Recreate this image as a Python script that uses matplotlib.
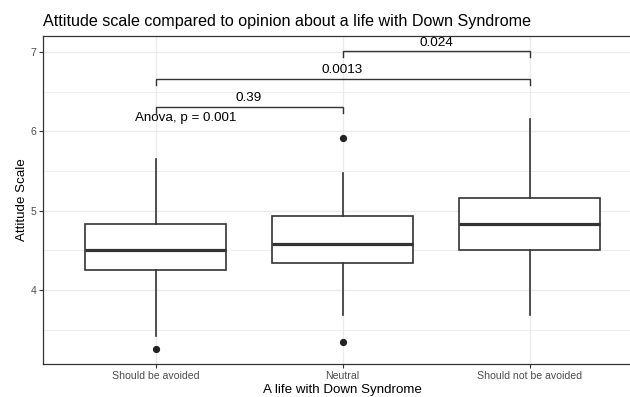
import matplotlib
matplotlib.use("Agg")
import matplotlib.pyplot as plt

plt.rcParams['font.family'] = ['Liberation Sans', 'DejaVu Sans']

# ---- data ----
categories = ["Should be avoided", "Neutral", "Should not be avoided"]
whislo = [3.42, 3.68, 3.68]
q1 = [4.25, 4.34, 4.50]
med = [4.50, 4.58, 4.83]
q3 = [4.83, 4.93, 5.16]
whishi = [5.65, 5.48, 6.16]
fliers = [[3.26], [5.91, 3.34], []]

bracket_pairs = [(1, 2), (1, 3), (2, 3)]
bracket_y = [6.31, 6.66, 7.01]
bracket_labels = ["0.39", "0.0013", "0.024"]
anova_label = "Anova, p = 0.001"
anova_x = 0.89
anova_y = 6.17

title = "Attitude scale compared to opinion about a life with Down Syndrome"
xlabel = "A life with Down Syndrome"
ylabel = "Attitude Scale"
yticks = [4, 5, 6, 7]
minor_yticks = [3.5, 4.5, 5.5, 6.5]

# ---- figure ----
W, H = 630, 397
fig = plt.figure(figsize=(W / 100, H / 100), dpi=100)
ax = fig.add_axes([43.3 / W, 1 - 364 / H, 598.4 / W, 328 / H])

grey20 = "#333333"
grey30 = "#4D4D4D"
grid = "#EBEBEB"

stats = []
for i, c in enumerate(categories):
    stats.append(dict(label=c, whislo=whislo[i], q1=q1[i], med=med[i],
                      q3=q3[i], whishi=whishi[i], fliers=fliers[i]))

positions = list(range(1, len(categories) + 1))
ax.bxp(stats, positions=positions, widths=0.75, showcaps=False,
       patch_artist=True,
       boxprops=dict(facecolor="white", edgecolor=grey20, linewidth=1.2),
       whiskerprops=dict(color=grey20, linewidth=1.2),
       medianprops=dict(color=grey20, linewidth=2.3),
       flierprops=dict(marker="o", markerfacecolor="#222222",
                       markeredgecolor="#222222", markersize=4.2),
       zorder=3)

# brackets
tip = 0.08
for (a, b), yv, lab in zip(bracket_pairs, bracket_y, bracket_labels):
    ax.plot([a, a, b, b], [yv - tip, yv, yv, yv - tip], color=grey20,
            linewidth=1.0, zorder=4, solid_joinstyle="miter")
    ax.text((a + b) / 2, yv + 0.03, lab, ha="center", va="bottom",
            fontsize=9.7, color="black", zorder=5)

ax.text(anova_x, anova_y, anova_label, ha="left", va="center",
        fontsize=9.6, color="black", zorder=5)

# axes styling (theme_bw-like)
ax.set_xlim(0.4, 3.6)
ax.set_ylim(3.067, 7.2)
ax.set_yticks(yticks)
ax.set_yticks(minor_yticks, minor=True)
ax.set_xticks(positions)
ax.set_xticklabels(categories)
ax.tick_params(axis="both", which="major", length=3, width=0.8,
               color=grey20, labelcolor=grey30, labelsize=7.6, pad=2)
ax.tick_params(axis="y", which="minor", length=0)
ax.grid(True, which="major", color=grid, linewidth=1.0, zorder=0)
ax.grid(True, which="minor", axis="y", color=grid, linewidth=0.6, zorder=0)
ax.set_axisbelow(True)
for s in ax.spines.values():
    s.set_color(grey20)
    s.set_linewidth(0.9)

ax.set_xlabel(xlabel, fontsize=9.6, color="black", labelpad=2)
ax.set_ylabel(ylabel, fontsize=9.6, color="black", labelpad=2)
ax.set_title(title, fontsize=11.6, color="black", loc="left", pad=7)

fig.savefig("out.png", dpi=100)
